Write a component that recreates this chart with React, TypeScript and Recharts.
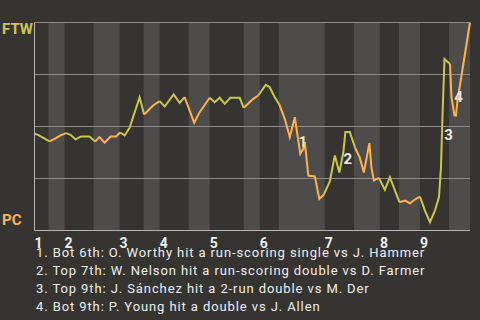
import { ComposedChart, Line, XAxis, YAxis, ReferenceArea, ReferenceLine, ReferenceDot } from "recharts";

// play index along the game (x) and FTW win probability (y)
const plays = [
  0, 0.7, 1.7, 3.0, 4.0, 5.2, 6.3, 7.2, 8.2, 9.3, 11.0, 12.1, 13.0, 14.0, 15.2, 16.3, 17.1, 18.0, 19.0, 21.0,
  21.9, 23.7, 25.0, 26.0, 27.8, 29.0, 30.0, 31.9, 33.0, 35.0, 36.0, 37.0, 38.0, 39.1, 41.0, 41.8, 43.7, 44.7, 46.2, 47.0,
  48.0, 48.9, 50.0, 51.0, 52.0, 53.1, 53.7, 54.0, 54.7, 56.0, 56.9, 57.8, 59.0, 60.0, 60.9, 61.7, 62.1, 63.0, 64.0, 65.0,
  65.8, 66.9, 67.3, 67.8, 68.8, 70.0, 71.0, 72.9, 74.0, 75.0, 76.0, 77.0, 78.0, 79.0, 80.0, 80.8, 81.2, 81.5, 81.9, 83.0,
  83.3, 83.9, 84.2, 84.5, 87.0,
];

const winProb = [
  0.465, 0.46, 0.446, 0.428, 0.441, 0.457, 0.468, 0.46, 0.438, 0.452, 0.452, 0.428, 0.449, 0.422, 0.452, 0.452, 0.471, 0.457, 0.494, 0.641,
  0.558, 0.601, 0.622, 0.596, 0.654, 0.614, 0.641, 0.518, 0.569, 0.638, 0.617, 0.638, 0.609, 0.638, 0.638, 0.59, 0.633, 0.649, 0.7, 0.689,
  0.641, 0.606, 0.537, 0.449, 0.545, 0.369, 0.393, 0.425, 0.264, 0.26, 0.152, 0.173, 0.236, 0.361, 0.279, 0.376, 0.473, 0.473, 0.4, 0.349,
  0.279, 0.42, 0.304, 0.24, 0.253, 0.196, 0.256, 0.136, 0.144, 0.131, 0.149, 0.163, 0.096, 0.04, 0.096, 0.16, 0.304, 0.545, 0.825, 0.801,
  0.641, 0.553, 0.553, 0.625, 1.0,
];

// where each half inning begins (top 1st, bot 1st, top 2nd, ...)
const halfStarts = [0, 2.8, 6, 11.8, 17, 21.8, 25, 30.8, 35, 41.8, 45, 48.8, 58, 63.8, 69, 72.8, 77, 82.8];
const gameEnd = 87;
const innings = ["1", "2", "3", "4", "5", "6", "7", "8", "9"];

const notes = [
  { n: "1", x: 53.6, wp: 0.425, text: "Bot 6th: O. Worthy hit a run-scoring single vs J. Hammer" },
  { n: "2", x: 62.6, wp: 0.344, text: "Top 7th: W. Nelson hit a run-scoring double vs D. Farmer" },
  { n: "3", x: 82.7, wp: 0.463, text: "Top 9th: J. Sánchez hit a 2-run double vs M. Der" },
  { n: "4", x: 84.7, wp: 0.644, text: "Bot 9th: P. Young hit a double vs J. Allen" },
];

const YELLOW = "#c9c84b";
const ORANGE = "#ffb24e";
const BG = "#363431";
const STRIPE = "#4e4c4a";

function halfOf(x: number) {
  let h = 0;
  halfStarts.forEach((s, i) => {
    if (s <= x - 0.4) h = i;
  });
  return h;
}

const isTop = plays.map((x) => halfOf(x) % 2 === 0);

const rows = plays.map((x, i) => {
  const next = i + 1 < plays.length ? isTop[i + 1] : isTop[i];
  const inTop = isTop[i] || next;
  const inBot = !isTop[i] || !next;
  return { x, top: inTop ? winProb[i] : null, bot: inBot ? winProb[i] : null };
});

const inningTicks = halfStarts.filter((_, i) => i % 2 === 0);

const InningTick = (props: any) => {
  const { x, y, payload } = props;
  const idx = inningTicks.indexOf(payload.value);
  return (
    <text x={x} y={y} dy="0.71em" textAnchor="start" fill="#f0f0f0" fontSize={14} fontWeight="bold">
      {innings[idx]}
    </text>
  );
};

const TeamTick = (props: any) => {
  const { y, payload } = props;
  if (payload.value === 1)
    return (
      <text x={2} y={y + 11} fill={YELLOW} fontSize={15} fontWeight="bold">
        FTW
      </text>
    );
  if (payload.value === 0)
    return (
      <text x={2} y={y - 5.5} fill={ORANGE} fontSize={15} fontWeight="bold">
        PC
      </text>
    );
  return null;
};

export default function App() {
  return (
    <div
      style={{
        position: "absolute",
        left: 0,
        top: 0,
        width: 480,
        height: 320,
        background: BG,
        fontFamily: "Roboto, sans-serif",
        overflow: "hidden",
      }}
    >
      <ComposedChart width={480} height={251} data={rows} margin={{ top: 22.5, right: 10, left: 0, bottom: 0.5 }}>
        <XAxis
          dataKey="x"
          type="number"
          domain={[0, gameEnd]}
          ticks={inningTicks}
          interval={0}
          tick={<InningTick />}
          tickLine={false}
          height={20}
          axisLine={{ stroke: "#b4b4b4" }}
        />
        <YAxis
          type="number"
          domain={[0, 1]}
          ticks={[0, 0.25, 0.5, 0.75, 1]}
          width={34.5}
          tick={<TeamTick />}
          tickLine={false}
          axisLine={{ stroke: "#b4b4b4" }}
        />
        {halfStarts.map((s, i) =>
          i % 2 === 1 ? (
            <ReferenceArea
              key={s}
              x1={s}
              x2={i + 1 < halfStarts.length ? halfStarts[i + 1] : gameEnd}
              fill={STRIPE}
              fillOpacity={1}
              stroke="none"
            />
          ) : null
        )}
        {[0.25, 0.5, 0.75, 1].map((v) => (
          <ReferenceLine key={v} y={v} stroke="#8c8b8a" />
        ))}
        <Line dataKey="top" stroke={YELLOW} strokeWidth={2} dot={false} connectNulls={false} isAnimationActive={false} />
        <Line dataKey="bot" stroke={ORANGE} strokeWidth={2} dot={false} connectNulls={false} isAnimationActive={false} />
        {notes.map((a) => (
          <ReferenceDot
            key={a.n}
            x={a.x}
            y={a.wp}
            r={0}
            stroke="none"
            label={{ value: a.n, position: "center", fill: "#e8e8e8", fontSize: 15, fontWeight: "bold" }}
          />
        ))}
      </ComposedChart>
      <div
        style={{
          position: "absolute",
          left: 36,
          top: 244,
          fontSize: 13,
          letterSpacing: "0.9px",
          lineHeight: "18px",
          color: "#eeeeee",
          whiteSpace: "nowrap",
        }}
      >
        {notes.map((a) => (
          <div key={a.n}>
            {a.n}. {a.text}
          </div>
        ))}
      </div>
    </div>
  );
}
